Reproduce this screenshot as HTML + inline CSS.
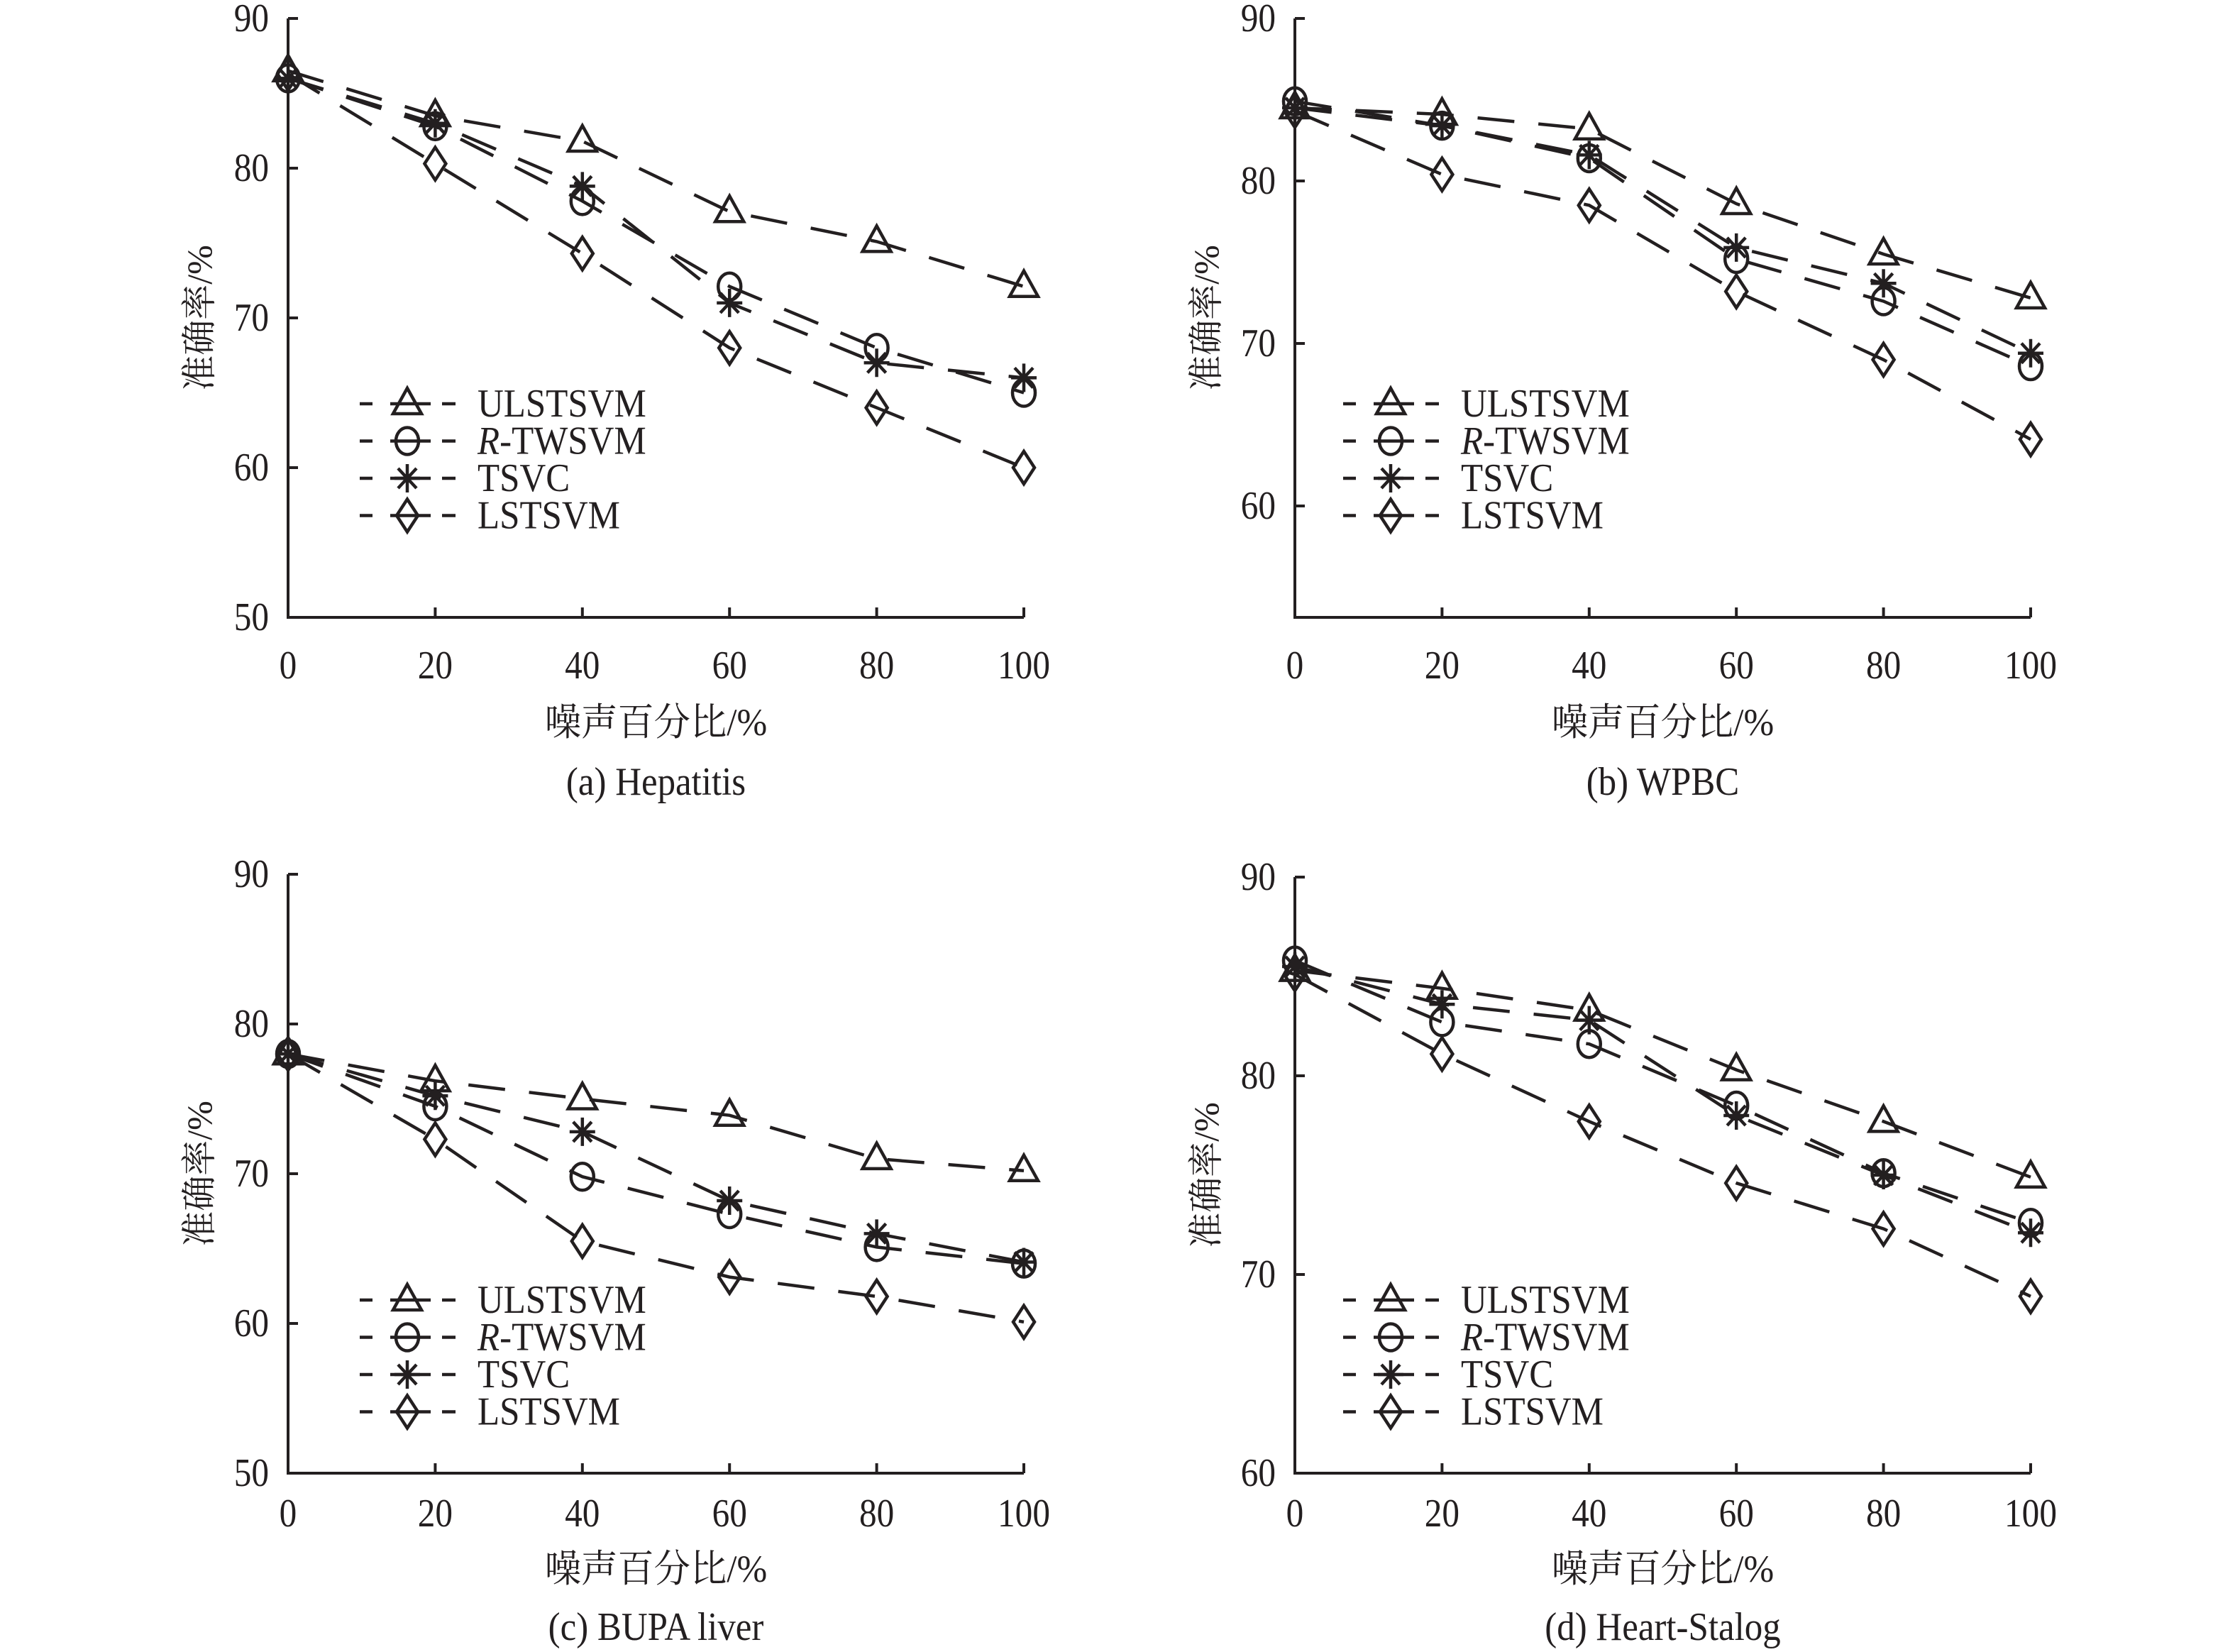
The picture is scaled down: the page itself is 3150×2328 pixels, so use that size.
<!DOCTYPE html>
<html><head><meta charset="utf-8">
<style>
html,body{margin:0;padding:0;background:#fff;}
svg{display:block;}
text{font-family:"Liberation Serif","Noto Serif CJK SC",serif;fill:#231f20;}
</style></head>
<body>
<svg id="chart" width="3150" height="2328" viewBox="0 0 3150 2328" xmlns="http://www.w3.org/2000/svg"></svg>
<script>
const categories = [0, 20, 40, 60, 80, 100];
const seriesNames = ["ULSTSVM", "R-TWSVM", "TSVC", "LSTSVM"];
const markers = ["triangle", "circle", "star", "diamond"];
// panel a: Hepatitis
const hepULSTSVM = [86.5, 83.5, 81.8, 77.1, 75.1, 72.1];
const hepRTWSVM = [86.0, 82.8, 77.8, 72.1, 68.0, 65.0];
const hepTSVC = [86.0, 83.0, 78.8, 71.0, 67.0, 66.0];
const hepLSTSVM = [86.3, 80.3, 74.3, 68.0, 64.0, 60.0];
// panel b: WPBC
const wpbcULSTSVM = [84.5, 84.1, 83.2, 78.6, 75.5, 72.8];
const wpbcRTWSVM = [84.9, 83.4, 81.4, 75.2, 72.6, 68.6];
const wpbcTSVC = [84.5, 83.4, 81.6, 75.9, 73.7, 69.4];
const wpbcLSTSVM = [84.3, 80.4, 78.5, 73.2, 69.0, 64.1];
// panel c: BUPA liver
const bupaULSTSVM = [78.0, 76.2, 75.0, 73.9, 71.0, 70.2];
const bupaRTWSVM = [78.0, 74.5, 69.8, 67.3, 65.1, 64.0];
const bupaTSVC = [78.0, 75.2, 72.8, 68.2, 66.0, 64.1];
const bupaLSTSVM = [78.0, 72.3, 65.5, 63.1, 61.8, 60.1];
// panel d: Heart-Stalog
const heartULSTSVM = [85.3, 84.4, 83.3, 80.3, 77.7, 74.9];
const heartRTWSVM = [85.8, 82.7, 81.6, 78.5, 75.1, 72.6];
const heartTSVC = [85.5, 83.6, 82.8, 78.0, 75.0, 72.1];
const heartLSTSVM = [85.1, 81.1, 77.7, 74.6, 72.3, 68.9];
const yTicksA = [50, 60, 70, 80, 90];
const yTicksB = [60, 70, 80, 90];
const yTicksD = [60, 70, 80, 90];
const captions = ["(a) Hepatitis", "(b) WPBC", "(c) BUPA liver", "(d) Heart-Stalog"];

const panels = [
  {name:"hepatitis", x0:406, x1:1443, yTop:26, ymax:90, pxPer10:211, yBottom:870, ticks:yTicksA,
   data:[hepULSTSVM,hepRTWSVM,hepTSVC,hepLSTSVM], cap:captions[0], legY:569, legX:507, off:[86,166,250]},
  {name:"wpbc", x0:1825, x1:2862, yTop:26, ymax:90, pxPer10:229, yBottom:870, ticks:yTicksB,
   data:[wpbcULSTSVM,wpbcRTWSVM,wpbcTSVC,wpbcLSTSVM], cap:captions[1], legY:569, legX:1893, off:[86,166,250]},
  {name:"bupa-liver", x0:406, x1:1443, yTop:1232, ymax:90, pxPer10:211, yBottom:2076, ticks:yTicksA,
   data:[bupaULSTSVM,bupaRTWSVM,bupaTSVC,bupaLSTSVM], cap:captions[2], legY:1832, legX:507, off:[75,153,235]},
  {name:"heart-stalog", x0:1825, x1:2862, yTop:1236, ymax:90, pxPer10:280, yBottom:2076, ticks:yTicksD,
   data:[heartULSTSVM,heartRTWSVM,heartTSVC,heartLSTSVM], cap:captions[3], legY:1832, legX:1893, off:[75,153,235]}
];

const NS = "http://www.w3.org/2000/svg";
const svg = document.getElementById("chart");
const FS = 56;
function mk(tag, attrs, parent){
  const e = document.createElementNS(NS, tag);
  for (const k in attrs) e.setAttribute(k, attrs[k]);
  (parent||svg).appendChild(e);
  return e;
}
function txt(x, y, anchor, size, sx, parent){
  return mk("text", {x:0, y:0, "text-anchor":anchor, "font-size":size, transform:`translate(${x} ${y}) scale(${sx} 1)`}, parent);
}
function marker(type, cx, cy, g){
  const st = {fill:"none", stroke:"#231f20", "stroke-width":4.5};
  let e;
  if (type==="triangle"){
    e = mk("polygon", Object.assign({points:`${cx},${cy-22} ${cx-20},${cy+14} ${cx+20},${cy+14}`}, st), g);
  } else if (type==="circle"){
    e = mk("ellipse", Object.assign({cx:cx, cy:cy, rx:16, ry:19}, st), g);
  } else if (type==="diamond"){
    e = mk("polygon", Object.assign({points:`${cx},${cy-23} ${cx+15},${cy} ${cx},${cy+23} ${cx-15},${cy}`}, st), g);
  } else {
    e = mk("path", Object.assign({d:`M${cx-18},${cy}H${cx+18}M${cx},${cy-20}V${cy+20}M${cx-13},${cy-14}L${cx+13},${cy+14}M${cx-13},${cy+14}L${cx+13},${cy-14}`}, st), g);
  }
  return e;
}

panels.forEach((p, pi) => {
  const g = mk("g", {});
  
  
  const xs = v => p.x0 + (v - categories[0]) / (categories[categories.length-1]-categories[0]) * (p.x1 - p.x0);
  const ys = v => p.yTop + (p.ymax - v) / 10 * p.pxPer10;

  const ax = mk("path", {d:`M${p.x0},${p.yTop}V${p.yBottom}H${p.x1}`, fill:"none", stroke:"#231f20", "stroke-width":4}, g);
  
  
  p.ticks.forEach(t => {
    const y = ys(t);
    const tk = mk("line", {x1:p.x0, x2:p.x0+14, y1:y, y2:y, stroke:"#231f20", "stroke-width":4}, g);
    
    
    const tl = txt(p.x0-27, y+18, "end", FS, 0.88, g);
    tl.textContent = t;
    
    
  });
  categories.forEach(c => {
    const x = xs(c);
    if (c !== 0) {
      const tk = mk("line", {x1:x, x2:x, y1:p.yBottom, y2:p.yBottom-14, stroke:"#231f20", "stroke-width":4}, g);
      
      
    }
    const tl = txt(x, p.yBottom+p.off[0], "middle", FS, 0.88, g);
    tl.textContent = c;
    
    
  });
  const xt = txt((p.x0+p.x1)/2, p.yBottom+p.off[1], "middle", 54, 0.95, g);
  xt.textContent = "噪声百分比/%";
  
  
  const cy = (p.yTop+p.yBottom)/2;
  const yt = mk("text", {x:p.x0-125, y:cy, "text-anchor":"middle", "font-size":50, transform:`rotate(-90 ${p.x0-125} ${cy}) translate(0 17)`}, g);
  yt.textContent = "准确率/%";
  
  
  const cp = txt((p.x0+p.x1)/2, p.yBottom+p.off[2], "middle", FS, 0.91, g);
  cp.textContent = p.cap;
  
  

  p.data.forEach((vals, si) => {
    const sg = mk("g", {}, g);
    
    
    const pts = vals.map((v,i) => `${xs(categories[i]).toFixed(1)},${ys(v).toFixed(1)}`).join(" ");
    const line = mk("polyline", {points:pts, fill:"none", stroke:"#231f20", "stroke-width":4.5, "stroke-dasharray":"52 34"}, sg);
    
    
    vals.forEach((v,i) => {
      const m = marker(markers[si], xs(categories[i]), ys(v), sg);
      
      
    });
  });

  const lg = mk("g", {}, g);
  
  
  seriesNames.forEach((n, si) => {
    const y = p.legY + si*52.5;
    const eg = mk("g", {}, lg);
    
    
    mk("path", {d:`M${p.legX},${y}h18M${p.legX+43},${y}h57M${p.legX+116},${y}h19`, stroke:"#231f20", "stroke-width":4.5}, eg);
    marker(markers[si], p.legX+67, y, eg);
    const t = txt(p.legX+166, y+18, "start", FS, 0.91, eg);
    if (si === 1) {
      const ts = mk("tspan", {"font-style":"italic"}, t); ts.textContent = "R";
      const ts2 = mk("tspan", {}, t); ts2.textContent = "-TWSVM";
    } else t.textContent = n;
  });
});
</script>
</body></html>
